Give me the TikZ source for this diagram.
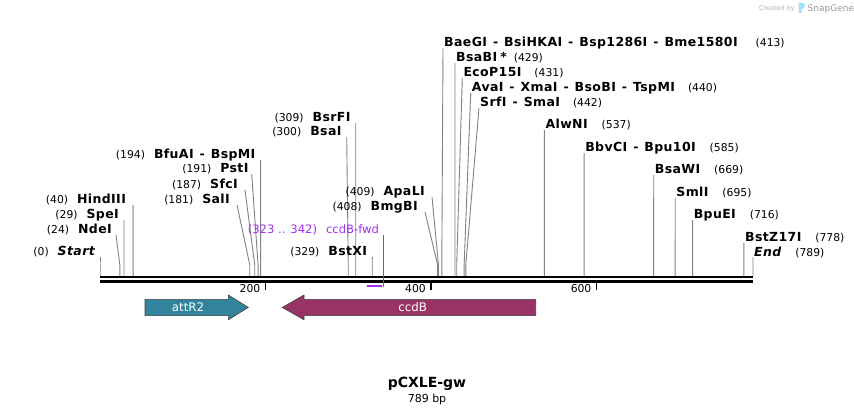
\documentclass[tikz,border=0pt]{standalone}
\usepackage{fontspec}
\setmainfont{DejaVu Sans}
\usetikzlibrary{positioning}

\definecolor{attrcol}{RGB}{49,132,155}
\definecolor{ccdbcol}{RGB}{153,51,102}
\definecolor{primcol}{RGB}{160,48,240}
\definecolor{cutgray}{RGB}{130,130,130}
\newcommand{\enzname}[1]{{\fontsize{12.5}{14}\selectfont\bfseries\addfontfeature{LetterSpace=3}#1}}
\newcommand{\dsh}{\hspace{6pt}{\fontsize{12.5}{14}\selectfont\bfseries -}\hspace{6pt}}

\begin{document}
\begin{tikzpicture}[x=1pt, y=-1pt,
    cutline/.style={cutgray, line width=0.9pt},
    leftlab/.style={anchor=base east, inner sep=0pt, xshift=-5pt, yshift=2pt, font=\fontsize{10.8}{12}\selectfont},
    rightlab/.style={anchor=base west, inner sep=0pt, xshift=1pt, yshift=2pt, font=\fontsize{10.8}{12}\selectfont},
    ticklab/.style={anchor=base east, inner sep=0pt, font=\fontsize{10.8}{12}\selectfont}]
    \def\bpx{0.8276}
    \fill[white] (0,0) rectangle (854,415);
    \useasboundingbox (0,0) rectangle (854,415);
    % cut sites: position / top of line
    \foreach \p/\tx/\ty in {0/100/257, 24/116/235, 29/124/220, 40/133.1/205,
        181/237/205, 187/245/190, 191/251.7/174, 194/260.6/160,
        300/346.7/137, 309/355.7/123, 329/372.3/257, 408/425/212, 409/432/197,
        413/443/48, 429/455/63, 431/462.3/78, 440/470.7/93, 442/479/108,
        537/544.4/130, 585/584.1/153, 669/653.7/175, 695/675.2/198,
        716/692.6/220, 778/743.9/243, 789/753/257}
    {
    \coordinate (S\p) at ({100+\bpx*\p},276);
    \coordinate (T\p) at (\tx,\ty);
    \draw[cutline] (S\p) -- ++(0,-11) -- (T\p);
    }
    % sequence
    \coordinate (B0) at (100,277);
    \coordinate (B1) at (753,277);
    \coordinate (C0) at (100,281.2);
    \coordinate (C1) at (753,281.2);
    \draw[line width=2.6pt] (B0) -- (B1);
    \draw[line width=2.6pt] (C0) -- (C1);
    \foreach \t in {200,400,600}
    {
    \coordinate (K\t) at ({100+\bpx*\t},282.5);
    \draw[line width=1.6pt] (K\t) -- ++(0,7.5);
    \node[ticklab, xshift=-5pt] (k\t) at ({100+\bpx*\t},292) {\t};
    }
    % left labels
    \node[leftlab] (lStart) at (T0) {(0)\hspace{9pt}\enzname{\itshape Start}};
    \node[leftlab, xshift=1pt] (lNdeI) at (T24) {(24)\hspace{9pt}\enzname{NdeI}};
    \node[leftlab] (lSpeI) at (T29) {(29)\hspace{9pt}\enzname{SpeI}};
    \node[leftlab, xshift=-2pt] (lHindIII) at (T40) {(40)\hspace{9pt}\enzname{HindIII}};
    \node[leftlab, xshift=-2pt] (lSalI) at (T181) {(181)\hspace{9pt}\enzname{SalI}};
    \node[leftlab, xshift=-2pt] (lSfcI) at (T187) {(187)\hspace{9pt}\enzname{SfcI}};
    \node[leftlab, xshift=2pt] (lPstI) at (T191) {(191)\hspace{9pt}\enzname{PstI}};
    \node[leftlab] (lBfuAI) at (T194) {(194)\hspace{9pt}\enzname{BfuAI}\dsh\enzname{BspMI}};
    \node[leftlab] (lBsaI) at (T300) {(300)\hspace{9pt}\enzname{BsaI}};
    \node[leftlab] (lBsrFI) at (T309) {(309)\hspace{9pt}\enzname{BsrFI}};
    \node[leftlab] (lBstXI) at (T329) {(329)\hspace{9pt}\enzname{BstXI}};
    \node[leftlab, xshift=-2pt] (lBmgBI) at (T408) {(408)\hspace{9pt}\enzname{BmgBI}};
    \node[leftlab, xshift=-2pt] (lApaLI) at (T409) {(409)\hspace{9pt}\enzname{ApaLI}};
    % right labels
    \node[rightlab] (lBaeGI) at (T413) {\enzname{BaeGI}\dsh\enzname{BsiHKAI}\dsh\enzname{Bsp1286I}\dsh\enzname{Bme1580I}\hspace{18pt}(413)};
    \node[rightlab] (lBsaBI) at (T429) {\enzname{BsaBI\hspace{3pt}*}\hspace{7pt}(429)};
    \node[rightlab] (lEcoP15I) at (T431) {\enzname{EcoP15I}\hspace{13pt}(431)};
    \node[rightlab] (lAvaI) at (T440) {\enzname{AvaI}\dsh\enzname{XmaI}\dsh\enzname{BsoBI}\dsh\enzname{TspMI}\hspace{13pt}(440)};
    \node[rightlab] (lSrfI) at (T442) {\enzname{SrfI}\dsh\enzname{SmaI}\hspace{13pt}(442)};
    \node[rightlab] (lAlwNI) at (T537) {\enzname{AlwNI}\hspace{14pt}(537)};
    \node[rightlab] (lBbvCI) at (T585) {\enzname{BbvCI}\dsh\enzname{Bpu10I}\hspace{14pt}(585)};
    \node[rightlab] (lBsaWI) at (T669) {\enzname{BsaWI}\hspace{14pt}(669)};
    \node[rightlab] (lSmlI) at (T695) {\enzname{SmlI}\hspace{14pt}(695)};
    \node[rightlab] (lBpuEI) at (T716) {\enzname{BpuEI}\hspace{14pt}(716)};
    \node[rightlab] (lBstZ17I) at (T778) {\enzname{BstZ17I}\hspace{14pt}(778)};
    \node[rightlab, yshift=-1pt] (lEnd) at (T789) {\enzname{\itshape End}\hspace{14pt}(789)};
    % primer
    \coordinate (P0) at (366.7,285.6);
    \coordinate (P1) at (381.7,285.6);
    \coordinate (P2) at (383.3,286.5);
    \coordinate (P3) at (383.3,235);
    \draw[primcol, line width=2pt] (P0) -- (P1);
    \draw[primcol, line width=1.3pt] (P2) -- (P3);
    \node[leftlab, primcol, xshift=1pt, font=\fontsize{11.6}{13}\selectfont] (lPrimer) at (P3) {(323 .. 342)\hspace{9pt}ccdB-fwd};
    % features
    \draw[fill=attrcol, draw=black!75, line width=0.6pt] (145,299.3) -- (228.3,299.3) -- (228.3,295) -- (248.3,307.4) -- (228.3,319.8) -- (228.3,315.6) -- (145,315.6) -- cycle;
    \node[white, font=\fontsize{11.8}{13}\selectfont] (fAttR2) at (188,307.4) {attR2};
    \draw[fill=ccdbcol, draw=black!75, line width=0.6pt] (535.7,299.3) -- (304,299.3) -- (304,295) -- (282.3,307.4) -- (304,319.8) -- (304,315.6) -- (535.7,315.6) -- cycle;
    \node[white, font=\fontsize{11.8}{13}\selectfont] (fCcdB) at (412.7,307.4) {ccdB};
    % title
    \node[inner sep=0pt, font=\fontsize{14}{16}\selectfont\bfseries] (title) at (427,384) {pCXLE-gw};
    \node[below=3pt of title, inner sep=0pt, font=\fontsize{11}{13}\selectfont] (bp) {789 bp};
    % watermark
    \node[anchor=base east, inner sep=0pt, black!30, font=\fontsize{6.5}{8}\selectfont] (wmA) at (795,10) {Created by};
    \fill[cyan!35] (798.5,13) -- (798.5,2.5) .. controls (804,2.5) and (806,4) .. (805,6.5) .. controls (804,8.5) and (801.5,9) .. (801.5,9) -- (801.5,13) -- cycle;
    \node[anchor=base west, inner sep=0pt, black!40, font=\fontsize{9}{10}\selectfont] (wmB) at (807.5,11) {SnapGene};
\end{tikzpicture}
\end{document}
